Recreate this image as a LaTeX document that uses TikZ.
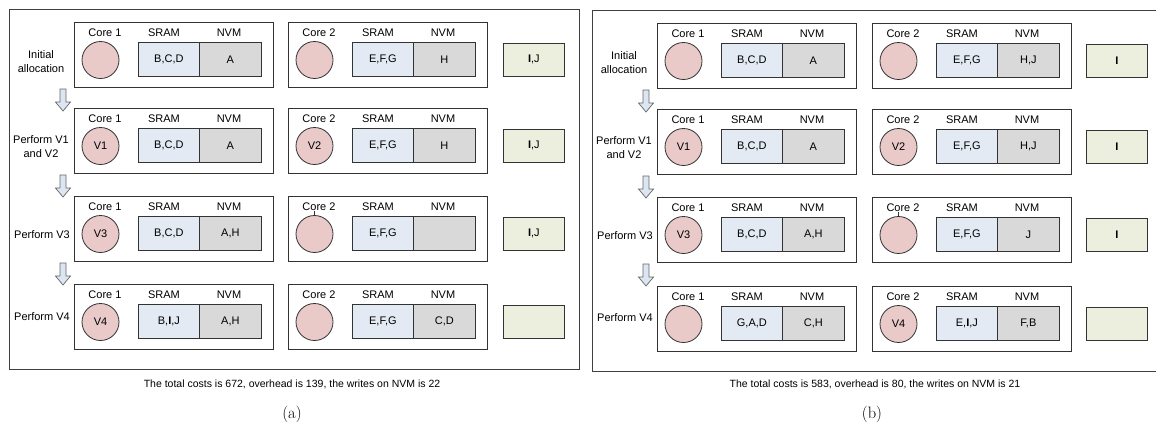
\documentclass[tikz,border=0pt]{standalone}
\usepackage{fontspec}
\newfontfamily\arialfont{Liberation Sans}
\definecolor{corepink}{HTML}{EAC9C9}
\definecolor{sramblue}{HTML}{E4EAF4}
\definecolor{nvmgray}{HTML}{D9D9D9}
\definecolor{bufgreen}{HTML}{ECEFDE}
\definecolor{arrowblue}{HTML}{DCE6F2}
\definecolor{edgegray}{HTML}{333333}

% one core unit: box, core label, SRAM/NVM labels, core circle, SRAM and NVM cells
% #1 name, #2 left x, #3 top y, #4 core label, #5 task in core, #6 SRAM data, #7 NVM data
\newcommand\coreunit[7]{%
  \node[corebox] (#1) at (#2,#3) {};
  \node (#1-lbl) at ({#2+31},{#3+11}) {#4};
  \node (#1-sl) at ({#2+90},{#3+11}) {SRAM};
  \node (#1-nl) at ({#2+155},{#3+11}) {NVM};
  \node[proc] (#1-c) at ({#2+26.5},{#3+38}) {#5};
  \node[sramcell] (#1-s) at ({#2+64},{#3+20}) {#6};
  \node[nvmcell] (#1-n) at ({#2+125},{#3+20}) {#7};
}
% hollow block arrow pointing down, #1 centre x, #2 top y
\newcommand\flowdown[2]{%
  \filldraw[flowarrow] ({#1-3},#2) -- ({#1+3},#2) -- ({#1+3},{#2+13}) -- ({#1+7.5},{#2+13})
    -- (#1,{#2+22}) -- ({#1-7.5},{#2+13}) -- ({#1-3},{#2+13}) -- cycle;
}

\begin{document}
\begin{tikzpicture}[x=1pt,y=-1pt,
  every node/.style={font=\arialfont\fontsize{11}{14}\selectfont, inner sep=0pt},
  panel/.style={draw=black!75, line width=1pt},
  corebox/.style={draw=edgegray, line width=0.8pt, minimum width=199pt, minimum height=65pt, anchor=north west},
  proc/.style={circle, draw=edgegray, line width=0.8pt, fill=corepink, minimum size=37pt},
  sramcell/.style={draw=edgegray, line width=0.8pt, fill=sramblue, minimum width=61pt, minimum height=34pt, anchor=north west},
  nvmcell/.style={draw=edgegray, line width=0.8pt, fill=nvmgray, minimum width=62pt, minimum height=34pt, anchor=north west},
  bufcell/.style={draw=edgegray, line width=0.8pt, fill=bufgreen, minimum width=61pt, minimum height=33pt, anchor=north west},
  steplabel/.style={align=center},
  flowarrow/.style={draw=black!60, fill=arrowblue, line width=0.7pt, line join=miter},
  tick/.style={draw=edgegray, line width=0.6pt},
  caption/.style={font=\arialfont\fontsize{10.5}{13}\selectfont},
  sublabel/.style={font=\rmfamily\fontsize{16.5}{18}\selectfont},
]
\useasboundingbox (0,0) rectangle (1156,432);

% ---------------- panel (a) ----------------
\draw[panel] (9,9) rectangle (579,369);

\node[steplabel] (a-s1) at (41,62) {Initial\\allocation};
\node[steplabel] (a-s2) at (41,147) {Perform V1\\and V2};
\node[steplabel] (a-s3) at (42,235) {Perform V3};
\node[steplabel] (a-s4) at (42,317) {Perform V4};

\coreunit{a1l}{74}{22}{Core 1}{}{B,C,D}{A}
\coreunit{a1r}{288}{22}{Core 2}{}{E,F,G}{H}
\node[bufcell] (a1b) at (503,43) {{\bfseries I},J};

\coreunit{a2l}{74}{108}{Core 1}{V1}{B,C,D}{A}
\coreunit{a2r}{288}{108}{Core 2}{V2}{E,F,G}{H}
\node[bufcell] (a2b) at (503,129) {{\bfseries I},J};

\coreunit{a3l}{74}{196}{Core 1}{V3}{B,C,D}{A,H}
\coreunit{a3r}{288}{196}{Core 2}{}{E,F,G}{}
\node[bufcell] (a3b) at (503,217) {{\bfseries I},J};
\draw[tick] (a3r-c.north) -- (a3r-c.north |- a3r-lbl.south);

\coreunit{a4l}{74}{284}{Core 1}{V4}{B,{\bfseries I},J}{A,H}
\coreunit{a4r}{288}{284}{Core 2}{}{E,F,G}{C,D}
\node[bufcell] (a4b) at (503,305) {};

\flowdown{63}{89}
\flowdown{63}{175}
\flowdown{63}{263}

\node[caption] (a-cap) at (292,384) {The total costs is 672, overhead is 139, the writes on NVM is 22};
\node[sublabel] (a-sub) at (292,414) {(a)};

% ---------------- panel (b) ----------------
\draw[panel] (1156,10) -- (592,10) -- (592,371) -- (1156,371);

\node[steplabel] (b-s1) at (624,63) {Initial\\allocation};
\node[steplabel] (b-s2) at (624,148) {Perform V1\\and V2};
\node[steplabel] (b-s3) at (625,236) {Perform V3};
\node[steplabel] (b-s4) at (625,318) {Perform V4};

\coreunit{b1l}{657}{23}{Core 1}{}{B,C,D}{A}
\coreunit{b1r}{872}{23}{Core 2}{}{E,F,G}{H,J}
\node[bufcell] (b1b) at (1086,44) {\bfseries I};

\coreunit{b2l}{657}{109}{Core 1}{V1}{B,C,D}{A}
\coreunit{b2r}{872}{109}{Core 2}{V2}{E,F,G}{H,J}
\node[bufcell] (b2b) at (1086,130) {\bfseries I};

\coreunit{b3l}{657}{197}{Core 1}{V3}{B,C,D}{A,H}
\coreunit{b3r}{872}{197}{Core 2}{}{E,F,G}{J}
\node[bufcell] (b3b) at (1086,218) {\bfseries I};
\draw[tick] (b3r-c.north) -- (b3r-c.north |- b3r-lbl.south);

\coreunit{b4l}{657}{286}{Core 1}{}{G,A,D}{C,H}
\coreunit{b4r}{872}{286}{Core 2}{V4}{E,{\bfseries I},J}{F,B}
\node[bufcell] (b4b) at (1086,307) {};

\flowdown{646}{90}
\flowdown{646}{176}
\flowdown{646}{264}

\node[caption] (b-cap) at (875,384) {The total costs is 583, overhead is 80, the writes on NVM is 21};
\node[sublabel] (b-sub) at (872,414) {(b)};
\end{tikzpicture}
\end{document}
